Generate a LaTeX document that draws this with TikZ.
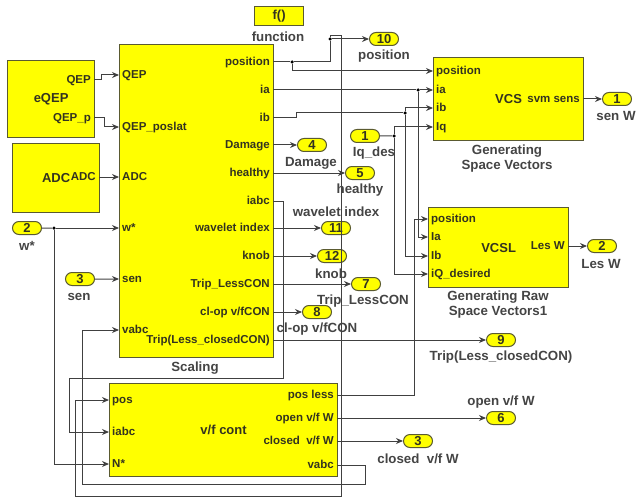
\documentclass[tikz,border=0pt]{standalone}
\usepackage{fontspec}
\setmainfont{Liberation Sans}
\usepackage{xcolor}
\usetikzlibrary{shapes.misc, arrows.meta}
\definecolor{slyellow}{HTML}{FFFF00}
\definecolor{slwire}{HTML}{404040}
\definecolor{sledge}{HTML}{5A5A30}
\definecolor{sltext}{HTML}{333320}
\definecolor{sllabel}{HTML}{444444}
\begin{document}
\begin{tikzpicture}[x=1pt, y=-1pt, font=\fontsize{11.5}{13}\selectfont\bfseries, text=sltext,
    blk/.style={draw=sledge, fill=slyellow, line width=1.2pt, anchor=north west, inner sep=0pt,
                font=\fontsize{13}{15}\selectfont\bfseries},
    oval/.style={draw=sledge, fill=slyellow, line width=1pt, rounded rectangle, inner sep=0pt,
                minimum width=29pt, minimum height=13pt, font=\fontsize{13}{13}\selectfont\bfseries},
    inp/.style={anchor=west, inner sep=3pt, text height=9pt, text depth=2pt},
    outp/.style={anchor=east, inner sep=3pt, text height=9pt, text depth=2pt},
    lbl/.style={text=sllabel, align=center, inner sep=0pt, yshift=-1pt,
                font=\fontsize{13.3}{15}\selectfont\bfseries},
    wire/.style={draw=slwire, line width=1pt},
    arr/.style={wire, -{Stealth[length=7pt, width=6pt]}},
    jn/.style={circle, fill=black, inner sep=0pt, minimum size=3.5pt}]
    \useasboundingbox (0,0) rectangle (636,497);

    \node[blk, minimum width=87pt, minimum height=77pt] (eqep) at (7,60) {eQEP};
    \node[blk, minimum width=87pt, minimum height=69pt] (adc) at (12,143) {ADC};
    \node[blk, minimum width=154pt, minimum height=313pt] (scl) at (119,44) {};
    \node[blk, minimum width=49pt, minimum height=19pt] (fn) at (254,6) {f()};
    \node[blk, minimum width=150pt, minimum height=83pt] (vcs) at (433,57) {VCS};
    \node[blk, minimum width=140pt, minimum height=80pt] (vcsl) at (428,207) {VCSL};
    \node[blk, minimum width=228pt, minimum height=93pt] (vf) at (109,383) {v/f cont};

    \node[outp] (eqepa) at (94,80) {QEP};
    \node[outp] (eqepb) at (94,118) {QEP\_p};
    \node[outp] (adco) at (99,177) {ADC};

    \node[inp] (sqep) at (119,75) {QEP};
    \node[inp] (spos) at (119,127) {QEP\_poslat};
    \node[inp] (sadc) at (119,177) {ADC};
    \node[inp] (sw) at (119,228) {w*};
    \node[inp] (ssen) at (119,279) {sen};
    \node[inp] (svabc) at (119,330) {vabc};
    \node[outp] (opos) at (273,62) {position};
    \node[outp] (oia) at (273,90) {ia};
    \node[outp] (oib) at (273,118) {ib};
    \node[outp] (odmg) at (273,145) {Damage};
    \node[outp] (ohl) at (273,173) {healthy};
    \node[outp] (oiabc) at (273,201) {iabc};
    \node[outp] (owav) at (273,228) {wavelet index};
    \node[outp] (oknob) at (273,256) {knob};
    \node[outp] (otl) at (273,284) {Trip\_LessCON};
    \node[outp] (ocl) at (273,312) {cl-op v/fCON};
    \node[outp] (otc) at (273,340) {Trip(Less\_closedCON)};

    \node[inp] (vpos) at (433,71) {position};
    \node[inp] (via) at (433,90) {ia};
    \node[inp] (vib) at (433,108) {ib};
    \node[inp] (viq) at (433,127) {Iq};
    \node[outp] (vsvm) at (583,99) {svm sens};

    \node[inp] (lpos) at (428,219) {position};
    \node[inp] (lia) at (428,237) {Ia};
    \node[inp] (lib) at (428,256) {Ib};
    \node[inp] (liq) at (428,274) {iQ\_desired};
    \node[outp] (lles) at (568,246) {Les W};

    \node[inp] (fpos) at (109,400) {pos};
    \node[inp] (fiabc) at (109,432) {iabc};
    \node[inp] (fn1) at (109,464) {N*};
    \node[outp] (fless) at (337,395) {pos less};
    \node[outp] (fopen) at (337,418) {open v/f W};
    \node[outp] (fclo) at (337,441) {closed\ \ v/f W};
    \node[outp] (fvabc) at (337,465) {vabc};

    \node[oval] (p2) at (27,228) {2};
    \node[oval] (p3) at (80,279) {3};
    \node[oval] (p1) at (365,136) {1};
    \node[oval] (q10) at (384,39) {10};
    \node[oval] (q1) at (617,99) {1};
    \node[oval] (q4) at (312,145) {4};
    \node[oval] (q5) at (360,173) {5};
    \node[oval] (q11) at (336,228) {11};
    \node[oval] (q12) at (332,256) {12};
    \node[oval] (q7) at (366,284) {7};
    \node[oval] (q8) at (317,312) {8};
    \node[oval] (q2) at (602,246) {2};
    \node[oval] (q9) at (501,340) {9};
    \node[oval] (q6) at (501,418) {6};
    \node[oval] (q3) at (418,441) {3};

    \node[jn] (jw) at (54,228) {};
    \node[jn] (jp) at (292,62) {};
    \node[jn] (jt) at (330,39) {};
    \node[jn] (ja) at (418,90) {};
    \node[jn] (jb) at (405,113) {};
    \node[jn] (jq) at (394,136) {};

    \draw[arr] (eqepa.east) -- (101,80) -- (101,75) -- (sqep.west);
    \draw[arr] (eqepb.east) -- (104,118) -- (104,127) -- (spos.west);
    \draw[arr] (adco.east) -- (sadc.west);
    \draw[wire] (p2) -- (jw);
    \draw[arr] (jw) -- (sw.west);
    \draw[arr] (jw) |- (fn1.west);
    \draw[arr] (p3) -- (ssen.west);
    \draw[arr] (fvabc.east) -- (365,465) -- (365,484) -- (82,484) |- (svabc.west);

    \draw[wire] (opos.east) -- (jp);
    \draw[wire] (jp) -| (jt);
    \draw[arr] (jt) -- (q10);
    \draw[arr] (jt) -- (330,36) -- (341,36) -- (341,496) -- (75,496) |- (fpos.west);
    \draw[arr] (jp) |- (vpos.west);
    \draw[wire] (oia.east) -- (ja);
    \draw[arr] (ja) -- (via.west);
    \draw[arr] (ja) |- (lia.west);
    \draw[wire] (oib.east) -- (296,118) -- (296,113) -- (jb);
    \draw[arr] (jb) |- (vib.west);
    \draw[arr] (jb) |- (lib.west);
    \draw[wire] (p1) -- (jq);
    \draw[arr] (jq) |- (viq.west);
    \draw[arr] (jq) |- (liq.west);
    \draw[arr] (fless.east) -- (414,395) |- (lpos.west);

    \draw[arr] (odmg.east) -- (q4);
    \draw[arr] (ohl.east) -- (q5);
    \draw[arr] (oiabc.east) -- (283,201) -- (283,378) -- (69,378) |- (fiabc.west);
    \draw[arr] (owav.east) -- (q11);
    \draw[arr] (oknob.east) -- (q12);
    \draw[arr] (otl.east) -- (q7);
    \draw[arr] (ocl.east) -- (q8);
    \draw[arr] (otc.east) -- (q9);
    \draw[arr] (fopen.east) -- (q6);
    \draw[arr] (fclo.east) -- (q3);
    \draw[arr] (vsvm.east) -- (q1);
    \draw[arr] (lles.east) -- (q2);

    \node[lbl] (tfn) at (278,36) {function};
    \node[lbl] (tw) at (27,245) {w*};
    \node[lbl] (tsen) at (79,296) {sen};
    \node[lbl] (tscl) at (195,367) {Scaling};
    \node[lbl] (tq10) at (384,55) {position};
    \node[lbl] (tq1) at (616,115) {sen W};
    \node[lbl] (tvcs) at (507,158) {Generating\\Space Vectors};
    \node[lbl] (tiq) at (374,152) {Iq\_des};
    \node[lbl] (tdmg) at (311,162) {Damage};
    \node[lbl] (thl) at (360,189) {healthy};
    \node[lbl] (twav) at (336,211) {wavelet index};
    \node[lbl] (tknob) at (331,273) {knob};
    \node[lbl] (ttl) at (363,300) {Trip\_LessCON};
    \node[lbl] (tcl) at (317,328) {cl-op v/fCON};
    \node[lbl] (tles) at (601,263) {Les W};
    \node[lbl] (tvcsl) at (498,304) {Generating Raw\\Space Vectors1};
    \node[lbl] (ttc) at (501,356) {Trip(Less\_closedCON)};
    \node[lbl] (topen) at (501,401) {open v/f W};
    \node[lbl] (tclo) at (418,458) {closed\ \ v/f W};
  \end{tikzpicture}
\end{document}
